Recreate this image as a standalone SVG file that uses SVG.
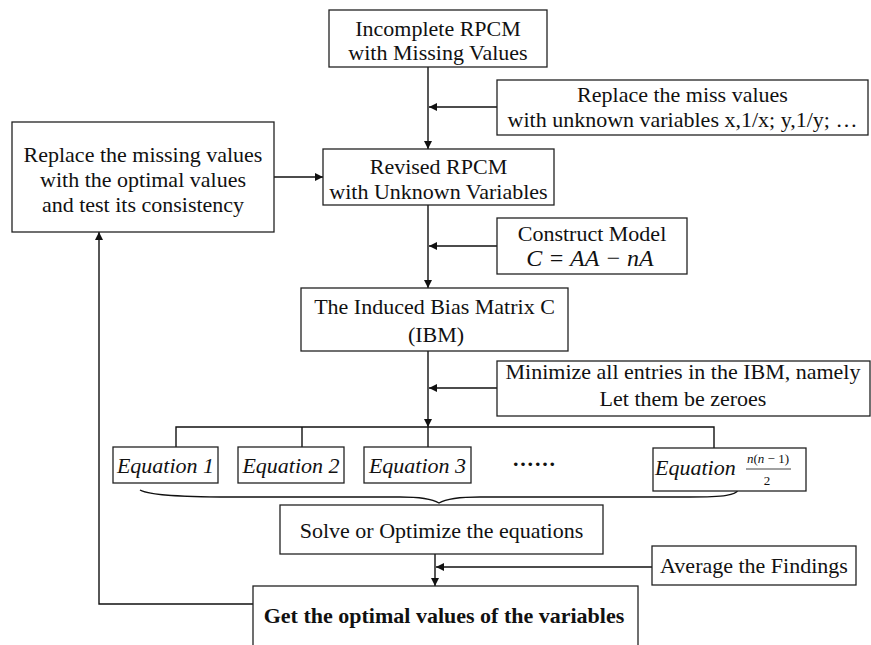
<svg xmlns="http://www.w3.org/2000/svg" width="871" height="645" viewBox="0 0 871 645">
<defs>
<marker id="ah" markerWidth="9" markerHeight="8" refX="8" refY="4" orient="auto" markerUnits="userSpaceOnUse">
<path d="M0,0 L8,4 L0,8 Z" fill="#111"/>
</marker>
<style>
.box{fill:#fff;stroke:#222;stroke-width:1.3}
.ln{fill:none;stroke:#111;stroke-width:1.4}
.t{font-family:"Liberation Serif","Times New Roman",serif;font-size:22px;fill:#111;text-anchor:middle}
.i{font-style:italic}
.b{font-weight:bold}
</style>
</defs>
<rect width="871" height="645" fill="#fff"/>
<g id="connectors">
<line class="ln" x1="428" y1="67" x2="428" y2="149" marker-end="url(#ah)"/>
<line class="ln" x1="497" y1="107" x2="429" y2="107" marker-end="url(#ah)"/>
<line class="ln" x1="274" y1="177" x2="323" y2="177" marker-end="url(#ah)"/>
<line class="ln" x1="428" y1="205" x2="428" y2="288" marker-end="url(#ah)"/>
<line class="ln" x1="497" y1="246" x2="429" y2="246" marker-end="url(#ah)"/>
<line class="ln" x1="428" y1="351" x2="428" y2="427" marker-end="url(#ah)"/>
<line class="ln" x1="497" y1="388" x2="429" y2="388" marker-end="url(#ah)"/>
<path class="ln" d="M176,448 V427 H714 V448 M302,427 V448 M428,427 V448"/>
<path class="ln" d="M140,490 C150,496 190,497 240,497 L400,497 C425,497 434,500 439,503 C444,500 453,497 480,497 L690,497 C725,497 736,495 738,490"/>
<line class="ln" x1="435" y1="554" x2="435" y2="586" marker-end="url(#ah)"/>
<line class="ln" x1="652" y1="567" x2="436" y2="567" marker-end="url(#ah)"/>
<polyline class="ln" points="253,604 99,604 99,232" marker-end="url(#ah)"/>
</g>
<g id="n-incomplete">
<rect class="box" x="329" y="10" width="218" height="57"/>
<text class="t" x="438" y="36">Incomplete RPCM</text>
<text class="t" x="438" y="60">with Missing Values</text>
</g>
<g id="n-replace-miss">
<rect class="box" x="497" y="80" width="371" height="55"/>
<text class="t" x="682.5" y="102">Replace the miss values</text>
<text class="t" x="682.5" y="127">with unknown variables x,1/x; y,1/y; …</text>
</g>
<g id="n-revised">
<rect class="box" x="323" y="149" width="231" height="56"/>
<text class="t" x="438.5" y="174">Revised RPCM</text>
<text class="t" x="438.5" y="199">with Unknown Variables</text>
</g>
<g id="n-replace-optimal">
<rect class="box" x="12" y="122" width="262" height="110"/>
<text class="t" x="143" y="162">Replace the missing values</text>
<text class="t" x="143" y="187">with the optimal values</text>
<text class="t" x="143" y="212">and test its consistency</text>
</g>
<g id="n-construct">
<rect class="box" x="497" y="218" width="190" height="56"/>
<text class="t" x="592" y="241">Construct Model</text>
<text class="t i" x="590" y="266" style="font-size:24px">C = AA − nA</text>
</g>
<g id="n-ibm">
<rect class="box" x="301" y="288" width="267" height="63"/>
<text class="t" x="434.5" y="314">The Induced Bias Matrix C</text>
<text class="t" x="436" y="342">(IBM)</text>
</g>
<g id="n-minimize">
<rect class="box" x="497" y="361" width="373" height="55"/>
<text class="t" x="683" y="379">Minimize all entries in the IBM, namely</text>
<text class="t" x="683" y="406">Let them be zeroes</text>
</g>
<g id="n-eq1">
<rect class="box" x="113" y="447" width="105" height="36"/>
<text class="t i" x="165.5" y="473">Equation 1</text>
</g>
<g id="n-eq2">
<rect class="box" x="238" y="447" width="106" height="36"/>
<text class="t i" x="291" y="473">Equation 2</text>
</g>
<g id="n-eq3">
<rect class="box" x="364" y="447" width="107" height="36"/>
<text class="t i" x="417.5" y="473">Equation 3</text>
</g>
<g id="n-dots">
<text class="t b" x="534" y="466" textLength="42" lengthAdjust="spacing">......</text>
</g>
<g id="n-eqn">
<rect class="box" x="653" y="448" width="153" height="43"/>
<text class="t i" x="655" y="475" style="text-anchor:start">Equation</text>
<text class="t" x="768" y="463" style="font-size:13px"><tspan font-style="italic">n</tspan>(<tspan font-style="italic">n</tspan> − 1)</text>
<line x1="746" y1="469" x2="791" y2="469" stroke="#111" stroke-width="0.8"/>
<text class="t" x="767" y="485" style="font-size:13px">2</text>
</g>
<g id="n-solve">
<rect class="box" x="280" y="505" width="323" height="49"/>
<text class="t" x="441.5" y="538">Solve or Optimize the equations</text>
</g>
<g id="n-average">
<rect class="box" x="652" y="546" width="204" height="39"/>
<text class="t" x="754" y="573">Average the Findings</text>
</g>
<g id="n-get">
<rect class="box" x="253" y="586" width="385" height="70"/>
<text class="t b" x="444" y="623">Get the optimal values of the variables</text>
</g>
</svg>
